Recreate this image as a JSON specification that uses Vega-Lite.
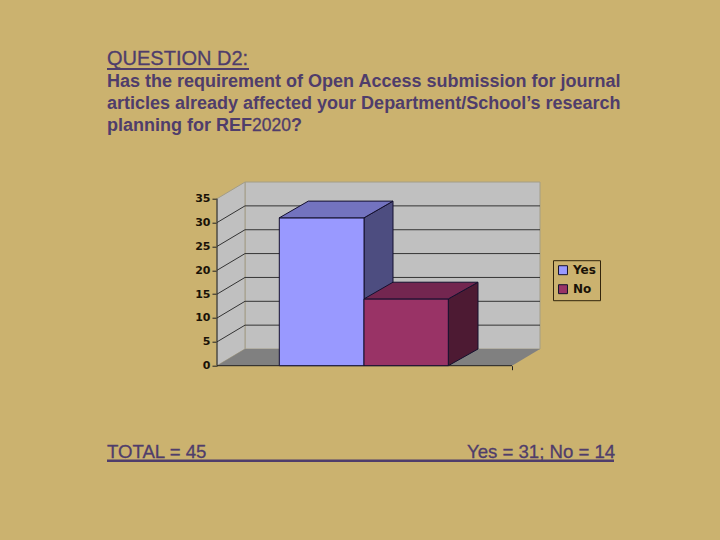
{
"$schema":"https://vega.github.io/schema/vega-lite/v6.json",
"width":323,"height":184,
"autosize":{"type":"none"},
"padding":{"left":217,"top":181.7,"right":180,"bottom":174.3},
"background":"#cbb26f",
"view":{"stroke":null},
"datasets":{
"walls":[
{"part":"wall","x":28,"lo":3.5,"hi":38.5},{"part":"wall","x":323,"lo":3.5,"hi":38.5},
{"part":"side wall","x":0,"lo":0,"hi":35},{"part":"side wall","x":28,"lo":3.5,"hi":38.5}],
"floor":[{"part":"floor","y":0,"x":0,"x2":295},{"part":"floor","y":3.5,"x":28,"x2":323}],
"grid":[
{"v":5,"x":0,"y":5},{"v":5,"x":28,"y":8.5},{"v":5,"x":323,"y":8.5},
{"v":10,"x":0,"y":10},{"v":10,"x":28,"y":13.5},{"v":10,"x":323,"y":13.5},
{"v":15,"x":0,"y":15},{"v":15,"x":28,"y":18.5},{"v":15,"x":323,"y":18.5},
{"v":20,"x":0,"y":20},{"v":20,"x":28,"y":23.5},{"v":20,"x":323,"y":23.5},
{"v":25,"x":0,"y":25},{"v":25,"x":28,"y":28.5},{"v":25,"x":323,"y":28.5},
{"v":30,"x":0,"y":30},{"v":30,"x":28,"y":33.5},{"v":30,"x":323,"y":33.5}],
"barFaces":[
{"part":"Yes side","x":147,"lo":0,"hi":31},{"part":"Yes side","x":176,"lo":3.5,"hi":34.5},
{"part":"Yes","x":62.3,"lo":0,"hi":31},{"part":"Yes","x":147,"lo":0,"hi":31},
{"part":"No side","x":231.3,"lo":0,"hi":14},{"part":"No side","x":261,"lo":3.5,"hi":17.5},
{"part":"No","x":147,"lo":0,"hi":14},{"part":"No","x":231.3,"lo":0,"hi":14}],
"barTops":[
{"part":"Yes top","y":31,"x":62.3,"x2":147},{"part":"Yes top","y":34.5,"x":91.3,"x2":176},
{"part":"No top","y":14,"x":147,"x2":231.3},{"part":"No top","y":17.5,"x":176,"x2":261}]
},
"encoding":{},
"resolve":{"scale":{"color":"shared","x":"shared","y":"shared"},"axis":{"x":"independent","y":"independent"}},
"layer":[
{"data":{"name":"walls"},
"mark":{"type":"area","orient":"vertical","stroke":"#a39d88","strokeWidth":1},
"encoding":{
"x":{"field":"x","type":"quantitative","scale":{"domain":[0,323],"nice":false,"zero":false},
"axis":{"values":[295],"labels":false,"domain":false,"grid":false,"title":null,"tickSize":4,"tickColor":"#222"}},
"y":{"field":"lo","type":"quantitative","scale":{"domain":[0,38.57],"nice":false,"zero":false},
"axis":{"values":[0,5,10,15,20,25,30,35],"labelOverlap":false,"domain":false,"grid":false,"title":null,"tickSize":5,"tickColor":"#222","labelFont":"DejaVu Sans","labelFontWeight":"bold","labelFontSize":11,"labelColor":"#1a1208","labelPadding":2}},
"y2":{"field":"hi"},
"color":{"field":"part","type":"nominal",
"scale":{"domain":["Yes","No","wall","side wall","floor","Yes side","Yes top","No side","No top"],
"range":["#9999ff","#993366","#c0c0c0","#c0c0c0","#808080","#4d4d80","#7373bf","#4d1a33","#732650"]},
"legend":{"values":["Yes","No"],"title":null,"orient":"none","legendX":336,"legendY":78.5,"strokeColor":"#33250c","padding":4,"symbolType":"square","symbolSize":80,"symbolStrokeColor":"#1a1030","symbolStrokeWidth":1,"labelFont":"DejaVu Sans","labelFontWeight":"bold","labelFontSize":12,"labelColor":"#1a1208","rowPadding":5,"labelOffset":4}}}},
{"data":{"name":"floor"},
"mark":{"type":"area","orient":"horizontal"},
"encoding":{
"y":{"field":"y","type":"quantitative","axis":null},
"x":{"field":"x","type":"quantitative","axis":null},
"x2":{"field":"x2"},
"color":{"field":"part","type":"nominal"}}},
{"data":{"name":"grid"},
"mark":{"type":"line","stroke":"#333333","strokeWidth":1},
"encoding":{
"x":{"field":"x","type":"quantitative","axis":null},
"y":{"field":"y","type":"quantitative","axis":null},
"detail":{"field":"v"}}},
{"data":{"values":[{"x":0,"x2":295,"y":0,"y2":0},{"x":0,"x2":0,"y":0,"y2":35}]},
"mark":{"type":"rule","stroke":"#222222","strokeWidth":1},
"encoding":{
"x":{"field":"x","type":"quantitative","axis":null},"x2":{"field":"x2"},
"y":{"field":"y","type":"quantitative","axis":null},"y2":{"field":"y2"}}},
{"data":{"name":"barFaces"},
"mark":{"type":"area","orient":"vertical","stroke":"#14102e","strokeWidth":1},
"encoding":{
"x":{"field":"x","type":"quantitative","axis":null},
"y":{"field":"lo","type":"quantitative","axis":null},
"y2":{"field":"hi"},
"color":{"field":"part","type":"nominal"}}},
{"data":{"name":"barTops"},
"mark":{"type":"area","orient":"horizontal","stroke":"#14102e","strokeWidth":1},
"encoding":{
"y":{"field":"y","type":"quantitative","axis":null},
"x":{"field":"x","type":"quantitative","axis":null},
"x2":{"field":"x2"},
"color":{"field":"part","type":"nominal"}}},
{"data":{"values":[{"t":"QUESTION D2:","x":-110,"y":63}]},
"mark":{"type":"text","align":"left","baseline":"alphabetic","font":"Liberation Sans","fontSize":20,"color":"#4f3d6b","stroke":"#4f3d6b","strokeWidth":0.3},
"encoding":{"x":{"field":"x","type":"quantitative","axis":null},"y":{"field":"y","type":"quantitative","axis":null},"text":{"field":"t"}}},
{"data":{"values":[
{"t":"Has the requirement of Open Access submission for journal","x":-110,"y":58.4},
{"t":"articles already affected your Department/School’s research","x":-110,"y":53.8},
{"t":"planning for REF","x":-110,"y":49.2},
{"t":"?","x":74,"y":49.2}]},
"mark":{"type":"text","align":"left","baseline":"alphabetic","font":"Liberation Sans","fontSize":18,"fontWeight":"bold","color":"#4f3d6b"},
"encoding":{"x":{"field":"x","type":"quantitative","axis":null},"y":{"field":"y","type":"quantitative","axis":null},"text":{"field":"t"}}},
{"data":{"values":[{"t":"2020","x":35,"y":49.2}]},
"mark":{"type":"text","align":"left","baseline":"alphabetic","font":"Liberation Sans","fontSize":17.5,"color":"#4f3d6b","stroke":"#4f3d6b","strokeWidth":0.3},
"encoding":{"x":{"field":"x","type":"quantitative","axis":null},"y":{"field":"y","type":"quantitative","axis":null},"text":{"field":"t"}}},
{"data":{"values":[
{"t":"TOTAL = 45","x":-110,"y":-19.3},
{"t":"Yes = 31; No = 14","x":250,"y":-19.3}]},
"mark":{"type":"text","align":"left","baseline":"alphabetic","font":"Liberation Sans","fontSize":18.6,"color":"#4f3d6b","stroke":"#4f3d6b","strokeWidth":0.3},
"encoding":{"x":{"field":"x","type":"quantitative","axis":null},"y":{"field":"y","type":"quantitative","axis":null},"text":{"field":"t"}}},
{"data":{"values":[
{"x":-110,"x2":32,"y":62.2,"w":2},
{"x":-110,"x2":397,"y":-19.9,"w":2.5}]},
"mark":{"type":"rule","stroke":"#4f3d6b"},
"encoding":{"x":{"field":"x","type":"quantitative","axis":null},"x2":{"field":"x2"},"y":{"field":"y","type":"quantitative","axis":null},
"strokeWidth":{"field":"w","type":"quantitative","scale":null}}}
]
}
